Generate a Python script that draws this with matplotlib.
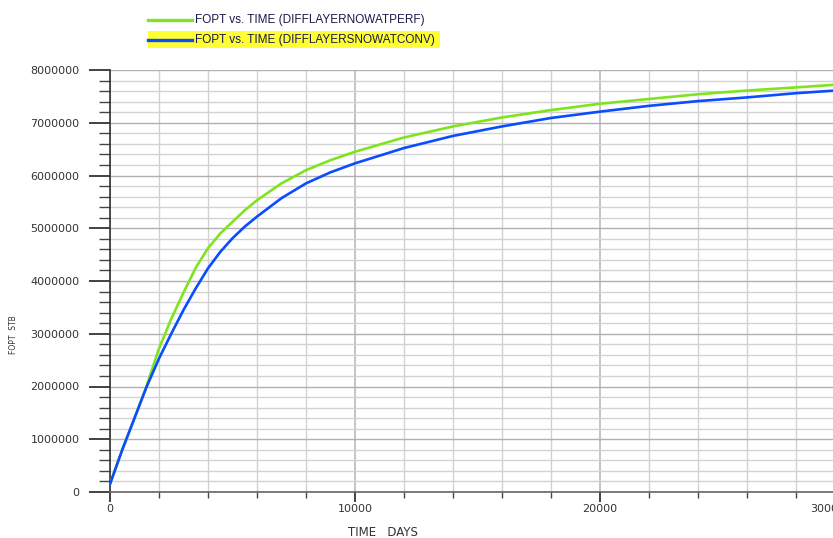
import numpy as np
import matplotlib
matplotlib.use("Agg")
import matplotlib.pyplot as plt
from matplotlib.lines import Line2D
from matplotlib.patches import Rectangle
from matplotlib.ticker import MultipleLocator, FuncFormatter

# time (days) and cumulative oil (STB)
time_days = [0, 500, 1000, 1500, 2000, 2500, 3000, 3500, 4000, 4500, 5000, 5500,
             6000, 7000, 8000, 9000, 10000, 12000, 14000, 16000, 18000, 20000,
             22000, 24000, 26000, 28000, 29600]
fopt_perf = [0.15e6, 0.80e6, 1.40e6, 2.02e6, 2.72e6, 3.28e6, 3.78e6, 4.25e6, 4.62e6,
             4.90e6, 5.12e6, 5.34e6, 5.53e6, 5.85e6, 6.10e6, 6.29e6, 6.45e6, 6.72e6,
             6.93e6, 7.10e6, 7.24e6, 7.36e6, 7.45e6, 7.54e6, 7.61e6, 7.67e6, 7.72e6]
fopt_conv = [0.15e6, 0.80e6, 1.40e6, 2.00e6, 2.53e6, 3.00e6, 3.45e6, 3.86e6, 4.24e6,
             4.55e6, 4.81e6, 5.03e6, 5.22e6, 5.57e6, 5.85e6, 6.06e6, 6.23e6, 6.52e6,
             6.75e6, 6.93e6, 7.09e6, 7.21e6, 7.32e6, 7.41e6, 7.48e6, 7.56e6, 7.61e6]

x_ticks = [0, 10000, 20000, 30000]
series_names = ["FOPT vs. TIME (DIFFLAYERNOWATPERF)", "FOPT vs. TIME (DIFFLAYERSNOWATCONV)"]
series_colors = ["#7fe41f", "#0a4cff"]

W, H = 833, 538
fig = plt.figure(figsize=(W / 100, H / 100), dpi=100)
ax_w = (W - 110) / W + 0.02
ax = fig.add_axes([110 / W, 1 - 492 / H, ax_w, (492 - 70) / H])
ax_wpx = ax_w * W

ax.plot(time_days, fopt_perf, color=series_colors[0], lw=1.9, zorder=3)
ax.plot(time_days, fopt_conv, color=series_colors[1], lw=1.9, zorder=4)

ax.set_xlim(0, 30200)
ax.set_ylim(0, 8e6)

ax.set_xticks(x_ticks)
ax.set_xticklabels([str(t) for t in x_ticks])
ax.xaxis.set_minor_locator(MultipleLocator(2000))
ax.yaxis.set_major_locator(MultipleLocator(1e6))
ax.yaxis.set_minor_locator(MultipleLocator(2e5))
ax.yaxis.set_major_formatter(FuncFormatter(lambda v, p: "%d" % v))
# the last label is pulled back inside the frame, as in the original
ax.get_xticklabels()[-1].set_ha("right")

ax.grid(which="minor", color="#d2d2d2", lw=1.0)
ax.grid(which="major", axis="y", color="#b0b0b0", lw=1.0)
ax.grid(which="major", axis="x", color="#c4c4c4", lw=1.4)
ax.set_axisbelow(True)

for s in ["top", "right"]:
    ax.spines[s].set_visible(False)
ax.spines["left"].set_color("#333333")
ax.spines["bottom"].set_color("#666666")
ax.spines["left"].set_linewidth(1.2)
ax.spines["bottom"].set_linewidth(1.2)

ax.tick_params(axis="y", which="major", length=15, width=1.2, color="#222222",
               labelsize=8, labelcolor="#333333", pad=7)
ax.tick_params(axis="y", which="minor", length=8, width=1.0, color="#444444")
ax.tick_params(axis="x", which="major", length=7, width=1.2, color="#222222",
               labelsize=8, labelcolor="#333333", pad=2)
ax.tick_params(axis="x", which="minor", length=4, width=1.0, color="#444444")

ax.set_xlabel("TIME   DAYS", fontsize=8.5, color="#333333")
ax.xaxis.set_label_coords((383 - 110) / ax_wpx, (492 - 526) / 422)
ax.set_ylabel("FOPT  STB", fontsize=5.5, color="#333333")
ax.yaxis.set_label_coords((18 - 110) / ax_wpx, (492 - 335) / 422)

# legend at the top, drawn in figure pixels
def fx(px):
    return px / W

def fy(py):
    return 1 - py / H

fig.add_artist(Rectangle((fx(148), fy(48)), fx(440) - fx(148), fy(31) - fy(48),
                         transform=fig.transFigure, color="#ffff33", lw=0, zorder=1))
for i, (name, col) in enumerate(zip(series_names, series_colors)):
    yy = 20 + 20 * i
    fig.add_artist(Line2D([fx(148), fx(192)], [fy(yy), fy(yy)], color=col, lw=2.4,
                          transform=fig.transFigure, zorder=2))
    fig.text(fx(195), fy(yy), name, fontsize=8.5, family="Liberation Sans",
             color="#1a1a4a", va="center", ha="left", zorder=3)

fig.savefig("out.png", dpi=100)
